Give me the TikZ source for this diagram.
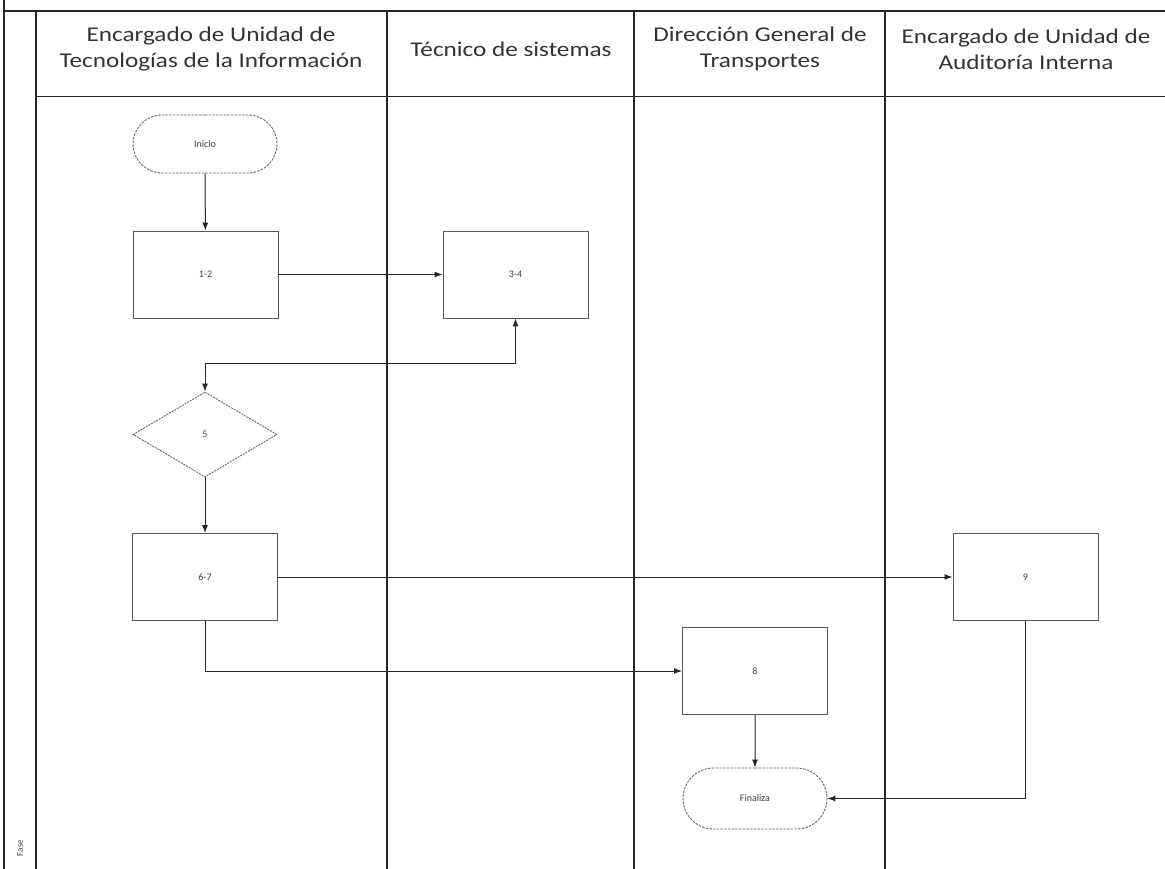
\documentclass[tikz,border=0pt]{standalone}
\usepackage{fontspec}
\setmainfont{Carlito}
\newfontfamily\headfont[FakeStretch=1.2]{Carlito}
\usetikzlibrary{arrows.meta,shapes.geometric,shapes.misc}
\begin{document}
\begin{tikzpicture}[x=1pt,y=-1pt,
  lane/.style={line width=1.3pt,black!85},
  proc/.style={draw=black!65,line width=0.9pt,minimum width=145pt,minimum height=87pt,inner sep=0pt,font=\fontsize{10}{12}\selectfont,text=black!75},
  term/.style={draw=black!60,line width=0.9pt,dash pattern=on 2.5pt off 1.2pt,rounded rectangle,minimum width=144pt,inner sep=0pt,font=\fontsize{10}{12}\selectfont,text=black!75},
  dec/.style={draw=black!60,line width=0.9pt,dash pattern=on 2pt off 1pt,diamond,minimum width=144pt,minimum height=85pt,inner sep=0pt,font=\fontsize{10}{12}\selectfont,text=black!75},
  flow/.style={line width=1pt,black!85,-{Latex[length=8pt,width=6pt]}},
  both/.style={line width=1pt,black!85,{Latex[length=8pt,width=6pt]}-{Latex[length=8pt,width=6pt]}},
  head/.style={font=\headfont\fontsize{21}{26}\selectfont,align=center,text=black!80}
]
\useasboundingbox (0,0) rectangle (1165,869);
% frame and lanes
\draw[lane] (4,0) -- (4,869);
\draw[lane] (4,11) -- (1165,11);
\draw[lane] (36,11) -- (36,869);
\draw[lane] (387,11) -- (387,869);
\draw[lane] (634,11) -- (634,869);
\draw[lane] (885,11) -- (885,869);
\draw[lane,line width=1pt] (36,97) -- (1165,97);
% headers
\node[head] (h1) at (211,49) {Encargado de Unidad de\\Tecnologías de la Información};
\node[head] (h2) at (511,49) {Técnico de sistemas};
\node[head] (h3) at (760,49) {Dirección General de\\Transportes};
\node[head] (h4) at (1026,49) {Encargado de Unidad de\\Auditoría Interna};
\node[rotate=90,font=\fontsize{9}{9}\selectfont,text=black!75] (fase) at (20,848) {Fase};
% nodes
\node[term,minimum height=58pt] (ini) at (205,144) {Inicio};
\node[proc] (n12) at (205.5,274.5) {1-2};
\node[proc] (n34) at (515.5,274.5) {3-4};
\node[dec] (d5) at (205,434.5) {5};
\node[proc] (n67) at (205,577) {6-7};
\node[proc] (n9) at (1025.5,577) {9};
\node[proc] (n8) at (755,671) {8};
\node[term,minimum height=61pt] (fin) at (755,798.5) {Finaliza};
% connectors
\draw[flow] (ini) -- (n12);
\draw[flow] (n12) -- (n34);
\draw[both] (n34.south) -- ++(0,45) -| (d5.north);
\draw[flow] (d5) -- (n67);
\draw[flow] (n67) -- (n9);
\draw[flow] (n67.south) |- (n8.west);
\draw[flow] (n8) -- (fin);
\draw[flow] (n9.south) |- (fin.east);
\end{tikzpicture}
\end{document}
